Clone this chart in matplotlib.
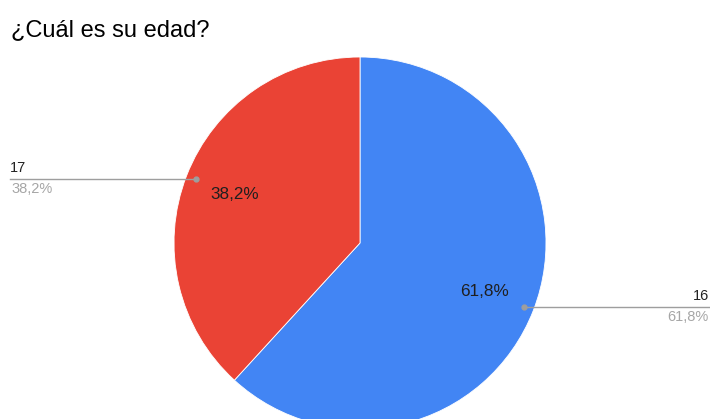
import numpy as np
import matplotlib.pyplot as plt

plt.rcParams['font.family'] = ['Liberation Sans', 'DejaVu Sans']

title = '¿Cuál es su edad?'
labels = ['16', '17']
values = [61.8, 38.2]
pct_text = ['61,8%', '38,2%']
colors = ['#4285F4', '#EA4335']

W, H = 710, 419
fig = plt.figure(figsize=(W / 100, H / 100), dpi=100)
ax = fig.add_axes([0, 0, 1, 1])

cx, cy, R = 360, H - 243, 186
wedges, _ = ax.pie(values, colors=colors, startangle=90, counterclock=False,
                   center=(cx, cy), radius=R,
                   wedgeprops=dict(linewidth=0.6, edgecolor='white'))

ax.set_xlim(0, W)
ax.set_ylim(0, H)
ax.set_aspect('equal')
ax.axis('off')

for w, lab, pct in zip(wedges, labels, pct_text):
    mid = np.deg2rad((w.theta1 + w.theta2) / 2)
    ux, uy = np.cos(mid), np.sin(mid)
    # label inside slice
    ax.text(cx + 0.72 * R * ux, cy + 0.72 * R * uy, pct, ha='center', va='center',
            fontsize=12.3, color='#1f1f1f')
    # leader line out to the edge
    px, py = cx + 0.945 * R * ux, cy + 0.945 * R * uy
    ax.plot([px], [py], 'o', color='#9e9e9e', markersize=3.5)
    if ux < 0:
        ax.plot([10, px], [py, py], color='#9e9e9e', linewidth=1)
        ax.text(10, py + 4, lab, ha='left', va='bottom', fontsize=10.5, color='#222222')
        ax.text(11, py - 3, pct, ha='left', va='top', fontsize=10.5, color='#a6a6a6')
    else:
        ax.plot([px, W], [py, py], color='#9e9e9e', linewidth=1)
        ax.text(W - 1, py + 4, lab, ha='right', va='bottom', fontsize=10.5, color='#222222')
        ax.text(W - 1, py - 3, pct, ha='right', va='top', fontsize=10.5, color='#a6a6a6')

fig.text(11 / W, 1 - 30 / H, title, ha='left', va='center', fontsize=17, color='#000000')

fig.savefig('out.png', dpi=100)
